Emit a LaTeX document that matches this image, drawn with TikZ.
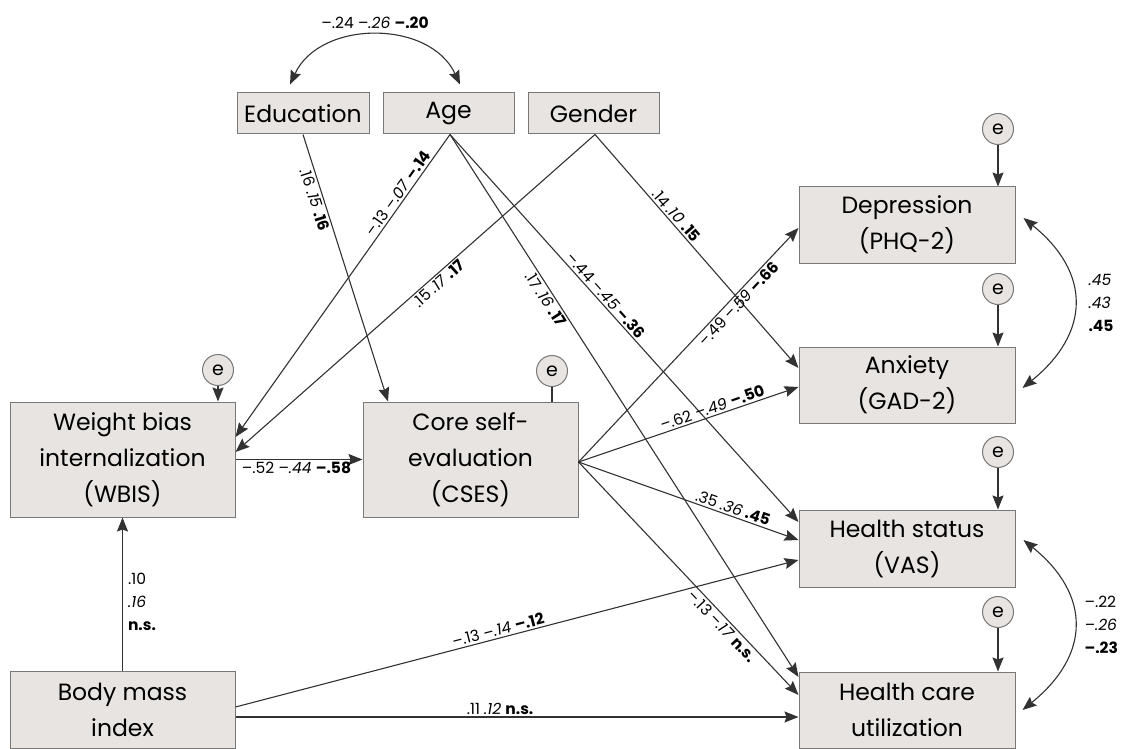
\documentclass[tikz,border=0pt]{standalone}
\usepackage{fontspec}
\setmainfont{Poppins}
\usetikzlibrary{arrows.meta}
\definecolor{boxfill}{RGB}{231,228,226}
\definecolor{boxedge}{RGB}{120,120,120}
\definecolor{linec}{RGB}{50,50,50}
\newcommand{\trip}[3]{#1 \textit{#2} \textbf{#3}}
\begin{document}
\begin{tikzpicture}[x=1pt,y=-1pt,
  box/.style={draw=boxedge, fill=boxfill, line width=1pt, inner sep=0pt, align=center,
    font=\fontsize{23.5}{36}\selectfont},
  err/.style={circle, draw=boxedge, fill=boxfill, line width=1pt, minimum size=31pt, inner sep=0pt,
    font=\fontsize{19}{19}\selectfont},
  conn/.style={draw=linec, line width=1.1pt, -{Stealth[length=14pt,width=11pt,inset=2pt]}},
  plainline/.style={draw=linec, line width=1.1pt},
  cov/.style={draw=linec, line width=1.1pt, {Stealth[length=14pt,width=11pt,inset=2pt]}-{Stealth[length=14pt,width=11pt,inset=2pt]}},
  lab/.style={font=\fontsize{15.5}{23}\selectfont, inner sep=2pt, text=black}
]
\useasboundingbox (0,0) rectangle (1128,749);

% top exogenous boxes
\node[box, minimum width=132pt, minimum height=41pt] (edu) at (303,113.5) {Education};
\node[box, minimum width=131pt, minimum height=41pt] (age) at (448.5,113.5) {Age};
\node[box, minimum width=131pt, minimum height=41pt] (gen) at (593.5,113.5) {Gender};

% left / middle boxes
\node[box, minimum width=225pt, minimum height=115pt] (wbis) at (122.5,459.5) {Weight bias\\internalization\\(WBIS)};
\node[box, minimum width=215pt, minimum height=115pt] (cses) at (470.5,459.5) {Core self-\\evaluation\\(CSES)};
\node[box, minimum width=225pt, minimum height=77pt] (bmi) at (122.5,709.5) {Body mass\\index};

% outcome boxes
\node[box, minimum width=216pt, minimum height=76pt] (dep) at (907,225) {Depression\\(PHQ-2)};
\node[box, minimum width=216pt, minimum height=76pt] (anx) at (907,385) {Anxiety\\(GAD-2)};
\node[box, minimum width=216pt, minimum height=77pt] (hs) at (907,548.5) {Health status\\(VAS)};
\node[box, minimum width=216pt, minimum height=76pt] (hcu) at (907,710) {Health care\\utilization};

% error terms
\node[err] (e1) at (218,370) {e};
\node[err] (e2) at (552,371) {e};
\node[err] (e3) at (998,129) {e};
\node[err] (e4) at (998,289) {e};
\node[err] (e5) at (998,452) {e};
\node[err] (e6) at (998,612) {e};
\draw[conn] (e1.south) -- (e1.south |- wbis.north);
\draw[plainline] (e2.south) -- (e2.south |- cses.north);
\draw[conn] (e3.south) -- (e3.south |- dep.north);
\draw[conn] (e4.south) -- (e4.south |- anx.north);
\draw[conn] (e5.south) -- (e5.south |- hs.north);
\draw[conn] (e6.south) -- (e6.south |- hcu.north);

% paths from exogenous variables
\draw[conn] (edu.south) -- ([xshift=-82.5pt]cses.north)
  node[lab, sloped, below, pos=0.235] {\trip{.16}{.15}{.16}};
\draw[conn] ([xshift=1.5pt]age.south) -- ([yshift=22.5pt]wbis.east)
  node[lab, sloped, above, pos=0.21] {\trip{–.13}{–.07}{–.14}};
\draw[conn] ([xshift=1.5pt]gen.south) -- ([yshift=7.5pt]wbis.east)
  node[lab, sloped, below, pos=0.45] {\trip{.15}{.17}{.17}};
\draw[conn] ([xshift=1.5pt]age.south) -- ([yshift=26.5pt]hs.west)
  node[lab, sloped, above, pos=0.43] {\trip{–.44}{–.45}{–.36}};
\draw[conn] ([xshift=1.5pt]age.south) -- ([yshift=33pt]hcu.west)
  node[lab, sloped, below, pos=0.295] {\trip{.17}{.16}{.17}};
\draw[conn] ([xshift=1.5pt]gen.south) -- ([yshift=17pt]anx.west)
  node[lab, sloped, above, pos=0.37] {\trip{.14}{.10}{.15}};

% WBIS -> CSES
\draw[conn] (wbis.east) -- (cses.west)
  node[lab, below, pos=0.48] {\trip{–.52}{–.44}{–.58}};

% CSES -> outcomes
\draw[conn] ([yshift=-2.5pt]cses.east) -- ([yshift=-3pt]dep.west)
  node[lab, sloped, below, pos=0.70] {\trip{–.49}{–.59}{–.66}};
\draw[conn] ([yshift=-2.5pt]cses.east) -- ([yshift=-2pt]anx.west)
  node[lab, sloped, above, pos=0.62] {\trip{–.62}{–.49}{–.50}};
\draw[conn] ([yshift=-2.5pt]cses.east) -- ([yshift=8.5pt]hs.west)
  node[lab, sloped, above, pos=0.69] {\trip{.35}{.36}{.45}};
\draw[conn] ([yshift=-2.5pt]cses.east) -- ([yshift=15pt]hcu.west)
  node[lab, sloped, below, pos=0.68] {\trip{–.13}{–.17}{n.s.}};

% BMI paths
\draw[conn] (bmi.north) -- (wbis.south)
  node[lab, right, align=left, pos=0.45, xshift=3pt] {.10\\\textit{.16}\\\textbf{n.s.}};
\draw[conn] ([yshift=2.5pt]bmi.east) -- ([yshift=-11.5pt]hs.west)
  node[lab, sloped, above, pos=0.47] {\trip{–.13}{–.14}{–.12}};
\draw[conn] ([yshift=-7.5pt]bmi.east) -- ([yshift=-7pt]hcu.west)
  node[lab, above, pos=0.47] {\trip{.11}{.12}{n.s.}};

% covariances
\draw[cov] ([xshift=-13pt,yshift=8pt]edu.north) .. controls +(30,-65) and +(-30,-65) .. ([xshift=11.5pt,yshift=8pt]age.north)
  node[lab, above=5pt, pos=0.5] {\trip{–.24}{–.26}{–.20}};
\draw[cov] ([xshift=8pt,yshift=7pt]dep.east) .. controls +(68,55) and +(68,-55) .. ([xshift=7pt,yshift=-3pt]anx.east)
  node[lab, right=12pt, align=left, pos=0.5] {\textit{.45}\\\textit{.43}\\\textbf{.45}};
\draw[cov] ([xshift=8pt,yshift=8.5pt]hs.east) .. controls +(68,55) and +(68,-55) .. ([xshift=7pt]hcu.east)
  node[lab, right=8pt, align=left, pos=0.5] {–.22\\\textit{–.26}\\\textbf{–.23}};
\end{tikzpicture}
\end{document}
